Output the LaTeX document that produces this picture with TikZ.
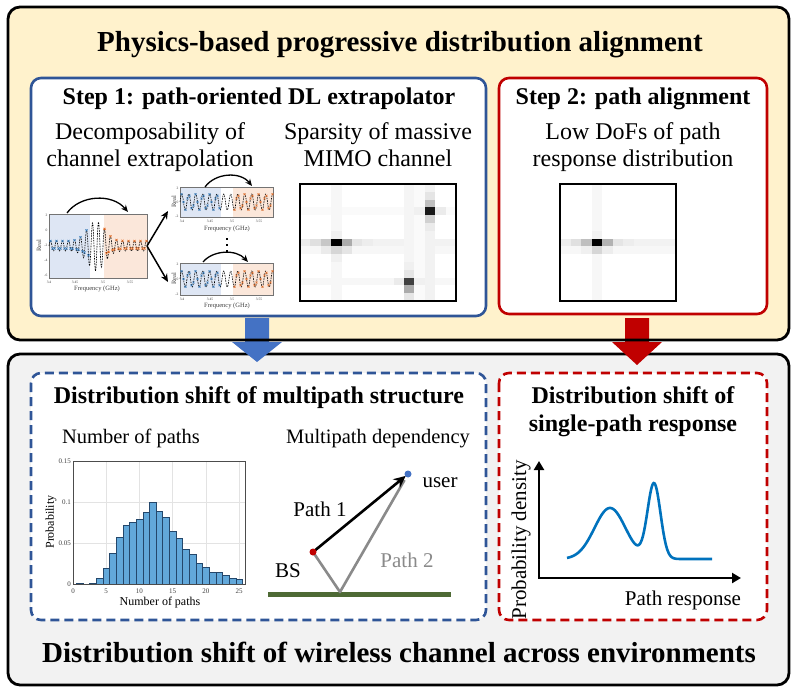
\documentclass[tikz,border=0pt]{standalone}
\usepackage{fontspec}
\setmainfont{Liberation Serif}
\usetikzlibrary{arrows.meta}
\definecolor{boxyellow}{HTML}{FFF2CC}
\definecolor{boxgray}{HTML}{F2F2F2}
\definecolor{stepblue}{HTML}{2F5597}
\definecolor{arrowblue}{HTML}{4472C4}
\definecolor{stepred}{HTML}{C00000}
\definecolor{groundgreen}{HTML}{4E6A35}
\definecolor{curveblue}{HTML}{0072BD}
\definecolor{barblue}{HTML}{62A8DA}
\definecolor{baredge}{HTML}{24476B}
\definecolor{shadeblue}{HTML}{DEE6F4}
\definecolor{shadeorange}{HTML}{FBE7DA}
\definecolor{markblue}{HTML}{2E75B6}
\definecolor{markorange}{HTML}{E46C26}
\definecolor{pathgray}{HTML}{8A8A8A}
\definecolor{gridgray}{HTML}{E3E3E3}
\definecolor{ticktext}{HTML}{404040}
\newcommand\hmcell[3]{\fill[black!#3] ({\hmx+#1*\hmw},{\hmy+#2*\hmh}) rectangle ++(\hmw,\hmh);}
\begin{document}
\begin{tikzpicture}[x=1pt,y=-1pt,
  outerbox/.style={draw=black,line width=2.8pt,rounded corners=12pt},
  stepbox/.style={fill=white,line width=2.6pt,rounded corners=10pt},
  dashbox/.style={fill=white,line width=2.6pt,rounded corners=10pt,dash pattern=on 9pt off 5pt},
  bigtitle/.style={font=\fontsize{29}{34}\selectfont\bfseries,inner sep=0pt,anchor=base},
  steptitle/.style={font=\fontsize{24}{28}\selectfont\bfseries,inner sep=0pt,anchor=base},
  bodytext/.style={font=\fontsize{24}{28}\selectfont,inner sep=0pt,anchor=base},
  midtext/.style={font=\fontsize{20.5}{24}\selectfont,inner sep=0pt,anchor=base},
  pathtext/.style={font=\fontsize{21}{25}\selectfont,inner sep=0pt,anchor=base},
  axislabel/.style={font=\fontsize{12}{14}\selectfont,inner sep=0pt},
  ticklabel/.style={font=\fontsize{7}{8}\selectfont,inner sep=0pt,text=ticktext},
  tinylabel/.style={font=\fontsize{6.5}{7}\selectfont,inner sep=0pt,text=ticktext},
  tinytick/.style={font=\fontsize{3.6}{4}\selectfont,inner sep=0pt,text=ticktext},
  hmframe/.style={draw=black,line width=1.6pt},
  plotframe/.style={draw=black!55,line width=0.3pt},
  curvearrow/.style={line width=1.3pt,-{Stealth[length=7pt,width=6pt]}},
  splitarrow/.style={line width=1.5pt,-{Stealth[length=8pt,width=7pt]}},
  sigline/.style={line width=0.6pt,dash pattern=on 1.6pt off 1pt},
  markb/.style={draw=markblue,line width=0.55pt},
  marko/.style={draw=markorange,line width=0.55pt},
  dotmark/.style={circle,inner sep=0pt,minimum size=7pt},
]
\useasboundingbox (0,0) rectangle (797,692);

% ---------- frames ----------
\fill[boxyellow,rounded corners=12pt] (8,7) rectangle (789,340);
\draw[outerbox,fill=boxgray] (8,354) rectangle (789,685);
\fill[arrowblue] (245,318) -- (269,318) -- (269,342) -- (282,342) -- (257,362) -- (232,342) -- (245,342) -- cycle;
\fill[stepred] (625,318) -- (649,318) -- (649,342) -- (662,342) -- (637,365) -- (612,342) -- (625,342) -- cycle;
\draw[outerbox] (8,7) rectangle (789,340);
\draw[stepbox,draw=stepblue] (31,78) rectangle (486,316);
\draw[stepbox,draw=stepred] (499,78) rectangle (767,314);
\draw[dashbox,draw=stepblue] (31,373) rectangle (486,620);
\draw[dashbox,draw=stepred] (499,373) rectangle (767,620);

% ---------- texts ----------
\node[bigtitle] (title) at (400,52) {Physics-based progressive distribution alignment};
\node[steptitle] (s1title) at (259,105) {Step 1: path-oriented DL extrapolator};
\node[steptitle] (s2title) at (633,105) {Step 2: path alignment};
\node[bodytext] (dec1) at (150,140) {Decomposability of};
\node[bodytext] (dec2) at (150,167) {channel extrapolation};
\node[bodytext] (spa1) at (378,140) {Sparsity of massive};
\node[bodytext] (spa2) at (378,167) {MIMO channel};
\node[bodytext] (low1) at (633,140) {Low DoFs of path};
\node[bodytext] (low2) at (633,167) {response distribution};
\node[steptitle] (ms) at (259,403) {Distribution shift of multipath structure};
\node[steptitle] (sp1) at (633,403) {Distribution shift of};
\node[steptitle] (sp2) at (633,431) {single-path response};
\node[midtext] (nop) at (131,443) {Number of paths};
\node[midtext] (mpd) at (378,443) {Multipath dependency};
\node[bigtitle] (bottomtitle) at (399,662) {Distribution shift of wireless channel across environments};

% ---------- main signal plot ----------
\fill[shadeblue] (49,214) rectangle (90,278);
\fill[shadeorange] (104,214) rectangle (147,278);
\draw[plotframe] (49,214) rectangle (147,278);
\draw[sigline] plot[domain=49:147,samples=250] (\x,{246-(5+20*exp(-((\x-96)/12)^2))*sin(60*(\x-49))});
\draw[markb] plot[only marks,mark=x,mark size=1.5pt,domain=50.5:88.5,samples=20] (\x,{246-(5+20*exp(-((\x-96)/12)^2))*sin(60*(\x-49))});
\draw[marko] plot[only marks,mark=x,mark size=1.5pt,domain=104.5:146.5,samples=22] (\x,{246-(5+20*exp(-((\x-96)/12)^2))*sin(60*(\x-49))});
\node[tinytick] (mt1) at (49,282) {3.4};
\node[tinytick] (mt2) at (75,282) {3.45};
\node[tinytick] (mt3) at (103,282) {3.5};
\node[tinytick] (mt4) at (130,282) {3.55};
\node[tinytick,anchor=east] (my1) at (47.5,215) {2};
\node[tinytick,anchor=east] (my2) at (47.5,230) {0};
\node[tinytick,anchor=east] (my3) at (47.5,245) {-2};
\node[tinytick,anchor=east] (my4) at (47.5,260) {-4};
\node[tinytick,anchor=east] (my5) at (47.5,275) {-6};
\node[tinylabel,rotate=90] (mreal) at (39,246) {Real};
\node[tinylabel] (mfreq) at (97,289) {Frequency (GHz)};
\coordinate (ca1) at (67,213);
\coordinate (ca2) at (128,212);
\draw[curvearrow] (ca1) .. controls (80,195) and (112,193) .. (ca2);

% ---------- split arrows ----------
\coordinate (sp) at (147,246);
\coordinate (spu) at (168,211);
\coordinate (spd) at (168,282);
\draw[splitarrow] (sp) -- (spu);
\draw[splitarrow] (sp) -- (spd);

% ---------- small plot 1 ----------
\fill[shadeblue] (180,187) rectangle (221,217);
\fill[shadeorange] (233,187) rectangle (273,217);
\draw[plotframe] (180,187) rectangle (273,217);
\draw[sigline] plot[domain=180:273,samples=220] (\x,{202-8*sin(51.43*(\x-180))});
\draw[markb] plot[only marks,mark=x,mark size=1.3pt,domain=181.5:219.5,samples=20] (\x,{202-8*sin(51.43*(\x-180))});
\draw[marko] plot[only marks,mark=x,mark size=1.3pt,domain=234.5:272.5,samples=20] (\x,{202-8*sin(51.43*(\x-180))});
\node[tinytick] (at1) at (182,221) {3.4};
\node[tinytick] (at2) at (210,221) {3.45};
\node[tinytick] (at3) at (232,221) {3.5};
\node[tinytick] (at4) at (259,221) {3.55};
\node[tinytick,anchor=east] (ay1) at (178.5,188) {2};
\node[tinytick,anchor=east] (ay2) at (178.5,202) {0};
\node[tinytick,anchor=east] (ay3) at (178.5,216) {-2};
\node[tinylabel,rotate=90] (areal) at (174,202) {Real};
\node[tinylabel] (afreq) at (227,229) {Frequency (GHz)};
\coordinate (cb1) at (205,187);
\coordinate (cb2) at (252,186);
\draw[curvearrow] (cb1) .. controls (215,173) and (240,171) .. (cb2);

% ---------- vertical dots ----------
\fill (225.7,237.7) rectangle ++(2.6,2.6);
\fill (225.7,243.7) rectangle ++(2.6,2.6);
\fill (225.7,249.7) rectangle ++(2.6,2.6);

% ---------- small plot 2 ----------
\fill[shadeblue] (180,263) rectangle (221,295);
\fill[shadeorange] (233,263) rectangle (273,295);
\draw[plotframe] (180,263) rectangle (273,295);
\draw[sigline] plot[domain=180:273,samples=220] (\x,{279-8*sin(51.43*(\x-180))});
\draw[markb] plot[only marks,mark=x,mark size=1.3pt,domain=181.5:219.5,samples=20] (\x,{279-8*sin(51.43*(\x-180))});
\draw[marko] plot[only marks,mark=x,mark size=1.3pt,domain=234.5:272.5,samples=20] (\x,{279-8*sin(51.43*(\x-180))});
\node[tinytick] (bt1) at (182,299) {3.4};
\node[tinytick] (bt2) at (210,299) {3.45};
\node[tinytick] (bt3) at (232,299) {3.5};
\node[tinytick] (bt4) at (259,299) {3.55};
\node[tinytick,anchor=east] (by1) at (178.5,264) {2};
\node[tinytick,anchor=east] (by2) at (178.5,279) {0};
\node[tinytick,anchor=east] (by3) at (178.5,294) {-2};
\node[tinylabel,rotate=90] (breal) at (174,279) {Real};
\node[tinylabel] (bfreq) at (227,306) {Frequency (GHz)};
\coordinate (cc1) at (203,262);
\coordinate (cc2) at (248,262);
\draw[curvearrow] (cc1) .. controls (213,250) and (236,249) .. (cc2);

% ---------- heatmap 1 ----------
\def\hmx{300}\def\hmy{184}\def\hmw{10.4}\def\hmh{7.8}
\fill[white] (300,184) rectangle (456,301);
\foreach \c in {0,...,14} {\hmcell{\c}{7}{5}\hmcell{\c}{8}{3}\hmcell{\c}{3}{2}\hmcell{\c}{12}{3}}
\foreach \r in {0,...,14} {\hmcell{3}{\r}{3}\hmcell{12}{\r}{5}\hmcell{11}{\r}{2}\hmcell{10}{\r}{4}}
\hmcell{0}{7}{8}\hmcell{1}{7}{12}\hmcell{2}{7}{22}\hmcell{3}{7}{100}\hmcell{4}{7}{33}\hmcell{5}{7}{10}\hmcell{6}{7}{7}
\hmcell{2}{8}{8}\hmcell{3}{8}{16}\hmcell{4}{8}{10}\hmcell{3}{6}{6}\hmcell{3}{9}{6}
\hmcell{12}{3}{90}\hmcell{12}{2}{25}\hmcell{12}{1}{10}\hmcell{12}{4}{18}\hmcell{12}{5}{8}\hmcell{11}{3}{6}\hmcell{13}{3}{8}
\hmcell{10}{12}{75}\hmcell{10}{13}{33}\hmcell{10}{11}{10}\hmcell{10}{14}{10}\hmcell{9}{12}{8}\hmcell{11}{12}{6}\hmcell{10}{10}{6}
\draw[hmframe] (300,184) rectangle (456,301);

% ---------- heatmap 2 ----------
\def\hmx{560}\def\hmy{184}\def\hmw{10.55}\def\hmh{7.8}
\fill[white] (560,184) rectangle (676,301);
\foreach \c in {0,...,10} {\hmcell{\c}{7}{5}\hmcell{\c}{8}{3}}
\foreach \r in {0,...,14} {\hmcell{3}{\r}{3}}
\hmcell{0}{7}{7}\hmcell{1}{7}{12}\hmcell{2}{7}{25}\hmcell{3}{7}{100}\hmcell{4}{7}{30}\hmcell{5}{7}{10}\hmcell{6}{7}{7}
\hmcell{3}{8}{16}\hmcell{2}{8}{6}\hmcell{4}{8}{7}\hmcell{3}{6}{5}
\draw[hmframe] (560,184) rectangle (676,301);

% ---------- histogram ----------
\fill[white] (73,461) rectangle (245.6,584);
\foreach \gx in {0,5,...,25} {\draw[gridgray,line width=0.4pt] ({73+\gx*6.64},461) -- ({73+\gx*6.64},584);}
\foreach \gy in {0.05,0.1} {\draw[gridgray,line width=0.4pt] (73,{584-\gy*820}) -- (245.6,{584-\gy*820});}
\foreach \b/\v in {1/0.001,3/0.001,4/0.007,5/0.019,6/0.038,7/0.057,8/0.072,9/0.075,10/0.079,11/0.087,12/0.1,13/0.089,14/0.082,15/0.065,16/0.056,17/0.043,18/0.036,19/0.025,20/0.021,21/0.015,22/0.015,23/0.011,24/0.007,25/0.006}
  {\draw[fill=barblue,draw=baredge,line width=0.35pt] ({73+(\b-0.5)*6.64},584) rectangle ({73+(\b+0.5)*6.64},{584-\v*820});}
\draw[line width=0.4pt,draw=black!70] (73,461) rectangle (245.6,584);
\foreach \gx in {0,5,...,25} {\node[ticklabel] (hx\gx) at ({73+\gx*6.64},591) {\gx};}
\node[ticklabel,anchor=east] (hy0) at (71,584) {0};
\node[ticklabel,anchor=east] (hy1) at (71,543) {0.05};
\node[ticklabel,anchor=east] (hy2) at (71,502) {0.1};
\node[ticklabel,anchor=east] (hy3) at (71,461) {0.15};
\node[axislabel,rotate=90] (hylab) at (51,522) {Probability};
\node[axislabel,anchor=base] (hxlab) at (160,605) {Number of paths};

% ---------- multipath geometry ----------
\coordinate (g1) at (268,594);
\coordinate (g2) at (451,594);
\draw[groundgreen,line width=5pt] (g1) -- (g2);
\coordinate (bs) at (313,552);
\coordinate (user) at (408,474);
\coordinate (refl) at (340,592);
\draw[pathgray,line width=2.6pt,line join=round,shorten >=7pt] (bs) -- (refl) -- (user);
\draw[black,line width=2.6pt,shorten <=2pt,shorten >=3pt,-{Stealth[length=12pt,width=11pt]}] (bs) -- (user);
\node[dotmark,fill=stepred] (bsdot) at (bs) {};
\node[dotmark,fill=arrowblue] (userdot) at (user) {};
\node[pathtext] (p1) at (320,516) {Path 1};
\node[pathtext,text=pathgray] (p2) at (407,567) {Path 2};
\node[pathtext] (bslab) at (288,577) {BS};
\node[pathtext] (userlab) at (440,487) {user};

% ---------- pdf plot ----------
\coordinate (pytop) at (539,461);
\coordinate (porig) at (539,578);
\coordinate (pxend) at (741,578);
\draw[line width=2.8pt,line join=miter,{Triangle[length=9pt,width=10pt]}-{Triangle[length=9pt,width=10pt]}] (pytop) -- (porig) -- (pxend);
\draw[curveblue,line width=2.6pt] plot[domain=567:712,samples=200] (\x,{559-51*exp(-((\x-610)/22)^2)-75*exp(-((\x-654)/9.2)^2)});
\node[pathtext,rotate=90,anchor=center] (pylab) at (521,540) {Probability density};
\node[pathtext] (pxlab) at (683,605) {Path response};
\end{tikzpicture}
\end{document}
